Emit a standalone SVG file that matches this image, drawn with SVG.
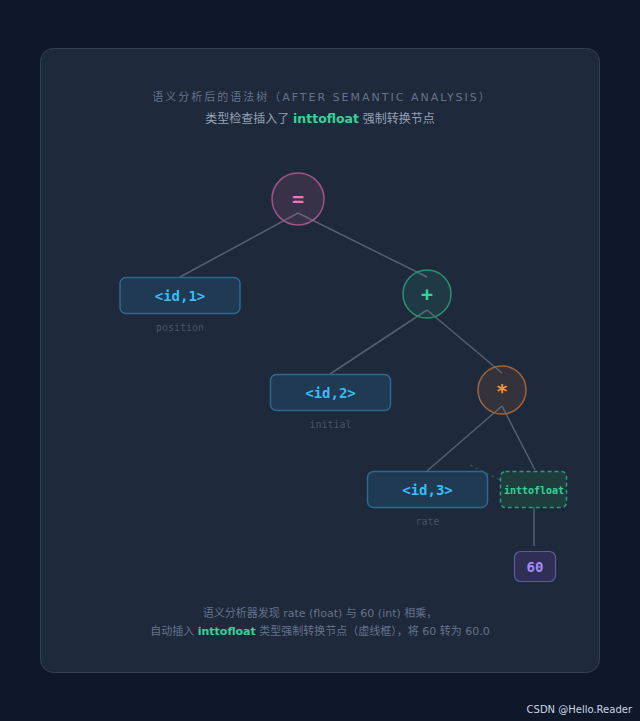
<svg xmlns="http://www.w3.org/2000/svg" width="640" height="721" viewBox="0 0 640 721">
<style>
.sans{font-family:"DejaVu Sans","Noto Sans CJK SC",sans-serif}
.mono{font-family:"DejaVu Sans Mono","Liberation Mono",monospace}
.edge{stroke:#556070;stroke-width:1.5;fill:none}
.idbox{fill:#1f3a52;stroke:#2b6a8e;stroke-width:1.5}
.idtxt{fill:#38bdf8;font-size:14px;font-weight:bold;text-anchor:middle}
.lbl{fill:#475569;font-size:10px}
</style>
<rect x="0" y="0" width="640" height="721" fill="#0f172a"/>
<rect x="40.5" y="48.5" width="559" height="624" rx="13" fill="#1e293b" stroke="#334155" stroke-width="1"/>
<text class="sans" x="322" y="101" text-anchor="middle" font-size="11" letter-spacing="2" fill="#64748b">语义分析后的语法树（AFTER SEMANTIC ANALYSIS）</text>
<text class="sans" x="320" y="123" text-anchor="middle" font-size="12" fill="#94a3b8">类型检查插入了 <tspan fill="#34d399" font-weight="bold" font-size="12.5">inttofloat</tspan> 强制转换节点</text>
<g id="connectors">
<line class="edge" x1="298" y1="213" x2="180" y2="277"/>
<line class="edge" x1="298" y1="213" x2="427" y2="277"/>
<line class="edge" x1="427" y1="310" x2="330" y2="374"/>
<line class="edge" x1="427" y1="310" x2="502" y2="373"/>
<line class="edge" x1="502" y1="406" x2="427" y2="471"/>
<line class="edge" x1="502" y1="406" x2="535" y2="470"/>
<line class="edge" x1="534" y1="507" x2="534" y2="546"/>
<line x1="470" y1="465" x2="500" y2="480" stroke="#2a6b5a" stroke-width="1" stroke-dasharray="3,3"/>
</g>
<g id="n-assign">
<circle cx="298" cy="199" r="26" fill="#f472b6" fill-opacity="0.12" stroke="#a0548a" stroke-width="1.5"/>
<text class="mono" x="298" y="206" text-anchor="middle" font-size="20" font-weight="bold" fill="#f472b6">=</text>
</g>
<g id="n-id1">
<rect class="idbox" x="120" y="277.5" width="120" height="36" rx="6"/>
<text class="mono idtxt" x="180" y="301">&lt;id,1&gt;</text>
<text class="mono lbl" x="180" y="331" text-anchor="middle">position</text>
</g>
<g id="n-plus">
<circle cx="427" cy="294" r="24" fill="#34d399" fill-opacity="0.1" stroke="#2e8f6e" stroke-width="1.5"/>
<text class="mono" x="427" y="301" text-anchor="middle" font-size="20" font-weight="bold" fill="#34d399">+</text>
</g>
<g id="n-id2">
<rect class="idbox" x="270.5" y="374.5" width="120" height="36" rx="6"/>
<text class="mono idtxt" x="330.5" y="398">&lt;id,2&gt;</text>
<text class="mono lbl" x="330.5" y="428" text-anchor="middle">initial</text>
</g>
<g id="n-mul">
<circle cx="502" cy="390" r="24" fill="#fb923c" fill-opacity="0.1" stroke="#a0643a" stroke-width="1.5"/>
<text class="mono" x="502" y="398" text-anchor="middle" font-size="20" font-weight="bold" fill="#fb923c">*</text>
</g>
<g id="n-id3">
<rect class="idbox" x="367.5" y="471.5" width="120" height="36" rx="6"/>
<text class="mono idtxt" x="427.5" y="495">&lt;id,3&gt;</text>
<text class="mono lbl" x="427.5" y="525" text-anchor="middle">rate</text>
</g>
<g id="n-inttofloat">
<rect x="500.5" y="471.5" width="66" height="36" rx="5" fill="#1f3d3d" stroke="#2e9a78" stroke-width="1.5" stroke-dasharray="4,3"/>
<text class="mono" x="534" y="494" text-anchor="middle" font-size="10" font-weight="bold" fill="#34d399">inttofloat</text>
</g>
<g id="n-60">
<rect x="514.5" y="551.5" width="41" height="30" rx="6" fill="#2e2f52" stroke="#5b5a9a" stroke-width="1.2"/>
<text class="mono" x="535" y="572" text-anchor="middle" font-size="14" font-weight="bold" fill="#a78bfa">60</text>
</g>
<text class="sans" x="320" y="617" text-anchor="middle" font-size="11" fill="#64748b">语义分析器发现 rate (float) 与 60 (int) 相乘，</text>
<text class="sans" x="320" y="635" text-anchor="middle" font-size="11" fill="#64748b">自动插入 <tspan fill="#34d399" font-weight="bold">inttofloat</tspan> 类型强制转换节点（虚线框），将 60 转为 60.0</text>
<text class="sans" x="632" y="713" text-anchor="end" font-size="10" fill="#cbd5e1">CSDN @Hello.Reader</text>
</svg>
